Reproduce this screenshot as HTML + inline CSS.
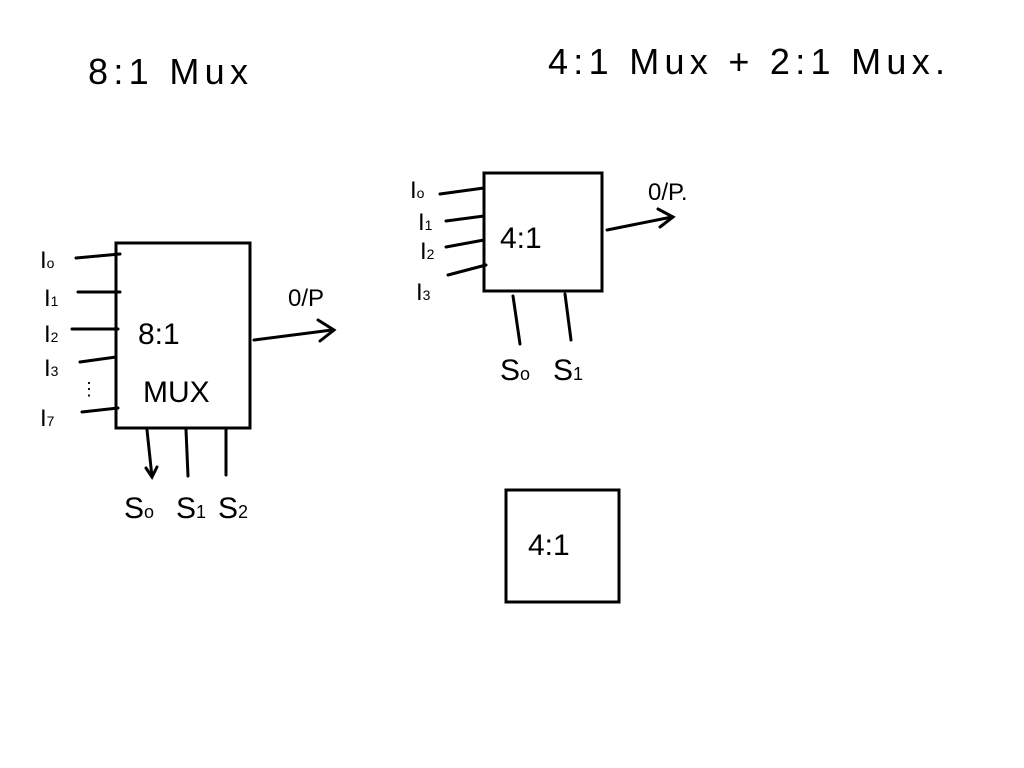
<!DOCTYPE html>
<html><head><style>
html,body{margin:0;padding:0;background:#fff;}
svg{display:block;}
text{font-family:"Liberation Sans",sans-serif;fill:#000;}
</style></head><body>
<svg width="1024" height="768" viewBox="0 0 1024 768" xmlns="http://www.w3.org/2000/svg">
<g stroke="#000" stroke-width="3" fill="none" stroke-linecap="round">
<rect x="116" y="243" width="134" height="185"/>
<line x1="76" y1="258" x2="120" y2="254"/>
<line x1="78" y1="292" x2="120" y2="292"/>
<line x1="72" y1="329" x2="118" y2="329"/>
<line x1="80" y1="362" x2="116" y2="357"/>
<line x1="82" y1="412" x2="118" y2="408"/>
<line x1="254" y1="340" x2="332" y2="330"/>
<polyline points="318,320 334,330 320,341"/>
<line x1="147" y1="430" x2="152" y2="477"/>
<polyline points="146,468 152,477 157,467"/>
<line x1="186" y1="430" x2="188" y2="476"/>
<line x1="226" y1="430" x2="226" y2="475"/>
<rect x="484" y="173" width="118" height="118"/>
<line x1="440" y1="194" x2="484" y2="188"/>
<line x1="446" y1="221" x2="484" y2="216"/>
<line x1="446" y1="247" x2="484" y2="240"/>
<line x1="448" y1="275" x2="486" y2="265"/>
<line x1="607" y1="230" x2="672" y2="217"/>
<polyline points="658,209 673,217 660,227"/>
<line x1="513" y1="296" x2="520" y2="344"/>
<line x1="565" y1="294" x2="571" y2="340"/>
<rect x="506" y="490" width="113" height="112"/>
</g>
<g font-size="36">
<text x="88" y="84" textLength="160" lengthAdjust="spacing">8:1 Mux</text>
<text x="548" y="74" textLength="397" lengthAdjust="spacing">4:1 Mux  +  2:1  Mux.</text>
</g>
<g font-size="24">
<text x="40" y="268">I<tspan font-size="14">o</tspan></text>
<text x="44" y="306">I<tspan font-size="14">1</tspan></text>
<text x="44" y="342">I<tspan font-size="14">2</tspan></text>
<text x="44" y="376">I<tspan font-size="14">3</tspan></text>
<text x="80" y="395" font-size="18">⋮</text>
<text x="40" y="426">I<tspan font-size="14">7</tspan></text>
<text x="288" y="306">0/P</text>
<text x="410" y="198">I<tspan font-size="14">o</tspan></text>
<text x="418" y="230">I<tspan font-size="14">1</tspan></text>
<text x="420" y="259">I<tspan font-size="14">2</tspan></text>
<text x="416" y="300">I<tspan font-size="14">3</tspan></text>
<text x="648" y="200">0/P.</text>
</g>
<g font-size="30">
<text x="138" y="344">8:1</text>
<text x="143" y="402">MUX</text>
<text x="124" y="518">S<tspan font-size="18">o</tspan></text>
<text x="176" y="518">S<tspan font-size="18">1</tspan></text>
<text x="218" y="518">S<tspan font-size="18">2</tspan></text>
<text x="500" y="248">4:1</text>
<text x="500" y="380">S<tspan font-size="18">o</tspan></text>
<text x="553" y="380">S<tspan font-size="18">1</tspan></text>
<text x="528" y="555">4:1</text>
</g>
</svg>
</body></html>
